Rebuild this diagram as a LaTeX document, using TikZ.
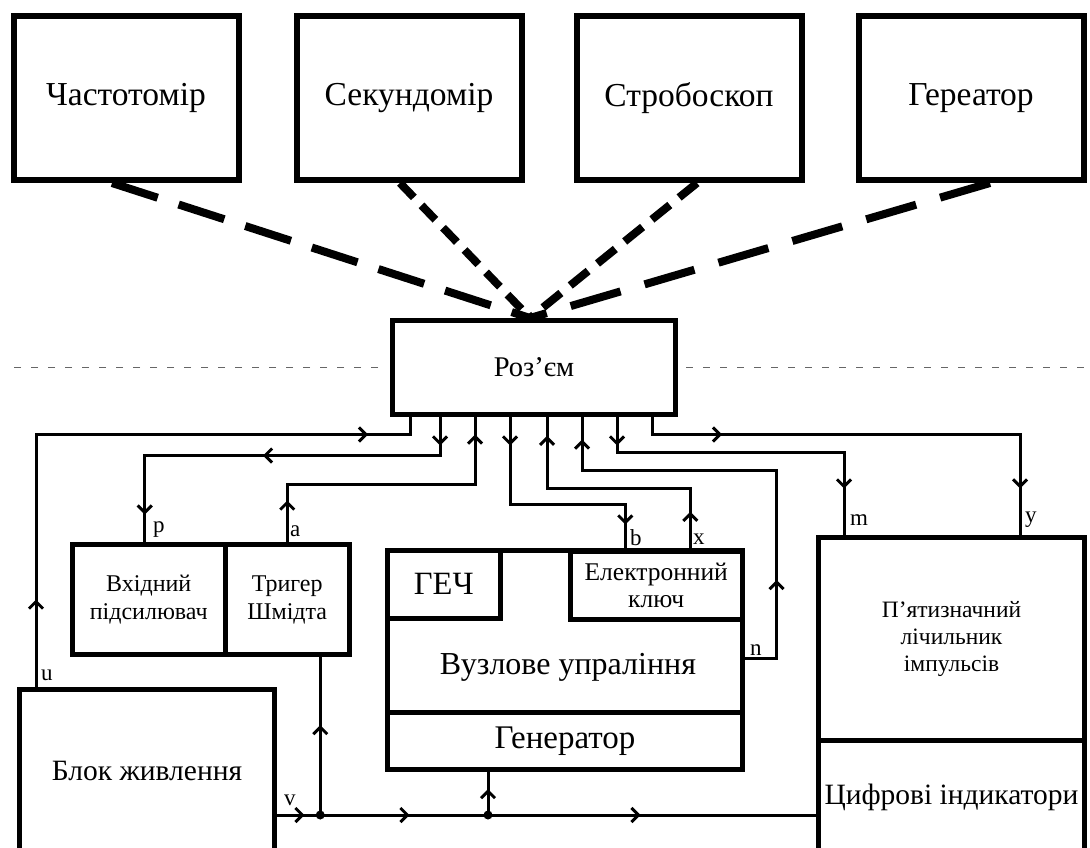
\documentclass[tikz,border=0pt]{standalone}
\usepackage{fontspec}
\setmainfont{Liberation Serif}
\usetikzlibrary{arrows.meta,decorations.markings}

\newcommand{\fsz}[2]{\fontsize{#1}{#2}\selectfont}

\begin{document}
\begin{tikzpicture}[
  x=1pt, y=-1pt,
  >={Straight Barb[length=7pt,width=14pt]},
  box/.style={draw, line width=5pt, inner sep=0pt, align=center},
  topbox/.style={box, line width=6pt, minimum width=225pt, minimum height=164pt, font=\fsz{33.5}{40}},
  wire/.style={line width=3pt},
  arr/.style={postaction={decorate, decoration={markings, mark=at position #1 with {\arrow{>}}}}},
  fan/.style={line width=8pt},
  sepline/.style={draw=black!60, line width=1.3pt, dash pattern=on 7pt off 10pt},
  lbl/.style={font=\fsz{23}{27}, inner sep=0pt, anchor=base west},
  joint/.style={circle, fill, inner sep=0pt, minimum size=9pt}
]
\useasboundingbox (0,0) rectangle (1090,848);
\fill[white] (0,0) rectangle (1090,848);
\clip (0,0) rectangle (1090,848);

% measuring devices
\node[topbox] (chast) at (126,98) {Частотомір};
\node[topbox] (sekund) at (409,98) {Секундомір};
\node[topbox] (strob) at (689,98) {Стробоскоп};
\node[topbox] (gener) at (971,98) {Гереатор};

\node[box, minimum width=283pt, minimum height=94pt, font=\fsz{28.5}{34}] (roz) at (534,367.5) {Роз’єм};

\draw[fan, dash pattern=on 48pt off 22pt] ([xshift=-14pt]chast.south) -- ([xshift=-4pt]roz.north);
\draw[fan, dash pattern=on 20pt off 11pt] ([xshift=-9pt]sekund.south) -- ([xshift=-4pt]roz.north);
\draw[fan, dash pattern=on 23pt off 12pt] ([xshift=8pt]strob.south) -- ([xshift=-4pt]roz.north);
\draw[fan, dash pattern=on 52pt off 25pt] ([xshift=19pt]gener.south) -- ([xshift=-4pt]roz.north);

\draw[sepline] ([xshift=-12pt]roz.west) -- ++(-366,0);
\draw[sepline] ([xshift=8pt]roz.east) -- ++(402,0);

% device blocks
\node[box, minimum width=152.5pt, minimum height=110pt, font=\fsz{24}{28}] (vkhid) at (148.75,599.5) {Вхідний\\підсилювач};
\node[box, minimum width=124.5pt, minimum height=110pt, font=\fsz{24}{28}] (trig) at (287.25,599.5) {Тригер\\Шмідта};

\node[box, minimum width=355pt, minimum height=161.5pt] (vuzl) at (565,631.25) {};
\node[box, minimum width=112.5pt, minimum height=67.5pt, font=\fsz{32.5}{38}] (gech) at (443.75,584.25) {ГЕЧ};
\node[box, minimum width=172.5pt, minimum height=67.5pt, font=\fsz{25.5}{27}] (ekey) at (656.25,585.5) {Електронний\\ключ};
\node[font=\fsz{32}{38}] (vuzltxt) at (568,667) {Вузлове упраління};
\node[box, minimum width=355pt, minimum height=57.5pt, font=\fsz{33}{38}] (gen) at (565,740.75) {Генератор};

\node[box, minimum width=255pt, minimum height=162.5pt, font=\fsz{29.5}{34}] (blok) at (147,770.75) {Блок живлення};

\node[box, minimum width=266pt, minimum height=202.5pt, font=\fsz{23.5}{27}] (pyat) at (951.5,638.75) {П’ятизначний\\лічильник\\імпульсів};
\node[box, minimum width=266pt, minimum height=115pt, font=\fsz{29.5}{34}] (tsyfr) at (951.5,797.5) {Цифрові індикатори};

% connector pins
\foreach \i/\dx in {1/-124,2/-94,3/-59,4/-24,5/13,6/48,7/83,8/118}
  \coordinate (pin\i) at ([xshift=\dx pt]roz.south);

\draw[wire, arr=87.5pt, arr=584.5pt] ([xshift=-111pt]blok.north) |- ([yshift=-17.5pt]pin1) -- (pin1);
\draw[wire, arr=28.5pt, arr=215.5pt, arr=392.75pt] (pin2) -- ++(0,38.5) -| ([xshift=-4pt]vkhid.north);
\draw[wire, arr=41.5pt, arr=295.25pt] (trig.north) |- ([yshift=-67.5pt]pin3) -- (pin3);
\draw[wire, arr=28.5pt, arr=222.75pt] (pin4) -- ++(0,87.5) -| ([xshift=-31pt]ekey.north);
\draw[wire, arr=37.5pt, arr=256.75pt] ([xshift=34pt]ekey.north) |- ([yshift=-71.5pt]pin5) -- (pin5);
\draw[wire, arr=109.75pt, arr=444.75pt] ([yshift=-27pt]vuzl.east) -- ++(31.5,0) |- ([yshift=-53.5pt]pin6) -- (pin6);
\draw[wire, arr=28.5pt, arr=298.5pt] (pin7) -- ++(0,35.5) -| ([xshift=-107.5pt]pyat.north);
\draw[wire, arr=87.5pt, arr=439.5pt] (pin8) -- ++(0,17.5) -| ([xshift=68.5pt]pyat.north);

% power bus
\coordinate (pw) at ([yshift=-44.25pt]blok.east);
\coordinate (tb) at ([xshift=33pt]trig.south);
\coordinate (gb) at ([xshift=-77pt]gen.south);
\draw[wire, arr=27.5pt, arr=132.5pt, arr=363.5pt] (pw) -- (pw -| tsyfr.west);
\draw[wire, arr=90pt] (tb |- pw) -- (tb);
\draw[wire, arr=26pt] (gb |- pw) -- (gb);
\node[joint] (j1) at (tb |- pw) {};
\node[joint] (j2) at (gb |- pw) {};

% pin labels
\node[lbl] at (41,680) {u};
\node[lbl] at (153,532) {p};
\node[lbl] at (290,536) {a};
\node[lbl] at (630,545) {b};
\node[lbl] at (693,544) {x};
\node[lbl] at (750,655) {n};
\node[lbl] at (850,525) {m};
\node[lbl] at (1025,522) {y};
\node[lbl] at (284,805) {v};
\end{tikzpicture}
\end{document}
